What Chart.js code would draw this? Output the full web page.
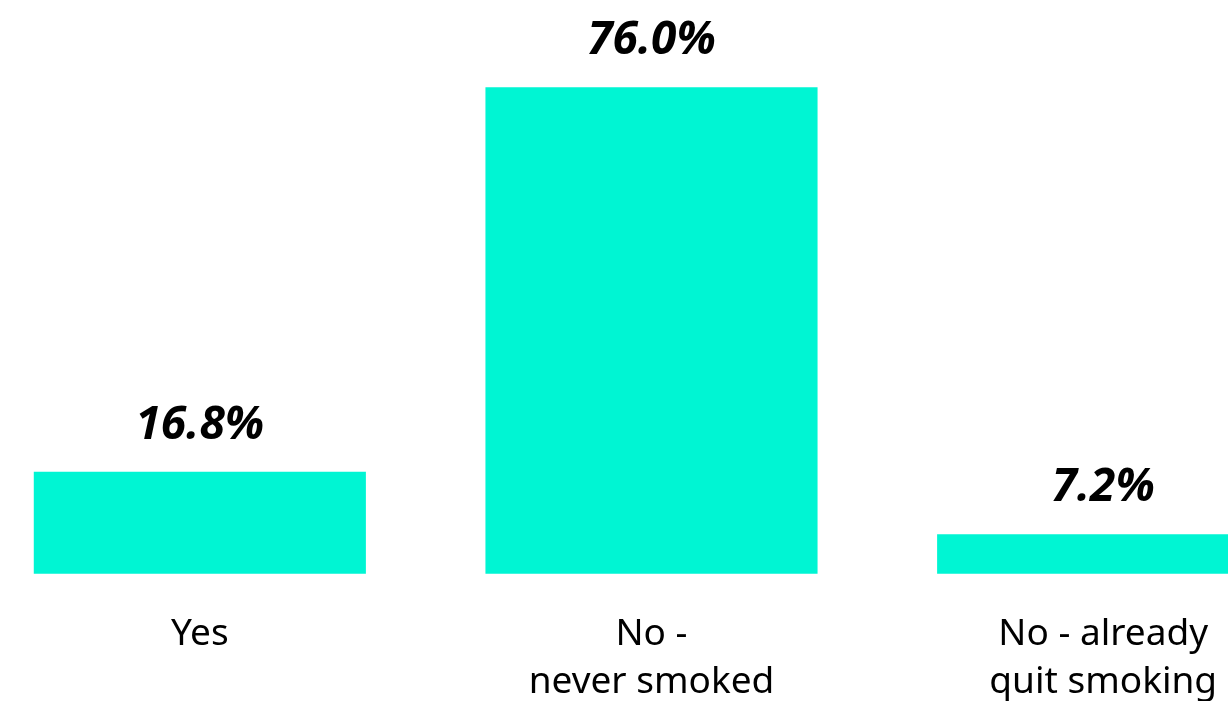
<!DOCTYPE html>
<html>
<head>
<meta charset="utf-8">
<script src="https://cdn.jsdelivr.net/npm/chart.js@4"></script>
<style>
  html, body { margin: 0; padding: 0; background: #fff; overflow: hidden; }
  #wrap { position: absolute; left: -26px; top: 0; width: 1355px; height: 744px; }
</style>
</head>
<body>
<div id="wrap"><canvas id="chart"></canvas></div>
<script>
// Smoking status (%)
const categories = [['Yes'], ['No -', 'never smoked'], ['No - already', 'quit smoking']];
const shares = [16.8, 76.0, 7.2];
const valueLabels = ['16.8%', '76.0%', '7.2%'];

const BAR_COLOR = '#00F5D3';

// draws the bold italic value above each bar
const valueLabelPlugin = {
  id: 'valueLabels',
  afterDatasetsDraw(chart) {
    const ctx = chart.ctx;
    const meta = chart.getDatasetMeta(0);
    ctx.save();
    ctx.font = 'italic bold 46px "Noto Sans", sans-serif';
    ctx.fillStyle = '#000';
    ctx.textAlign = 'center';
    ctx.textBaseline = 'alphabetic';
    meta.data.forEach((bar, i) => {
      ctx.fillText(valueLabels[i], bar.x, bar.y - 33);
    });
    ctx.restore();
  }
};

new Chart(document.getElementById('chart'), {
  type: 'bar',
  data: {
    labels: categories,
    datasets: [{
      data: shares,
      backgroundColor: BAR_COLOR,
      barPercentage: 0.7353,
      categoryPercentage: 1.0
    }]
  },
  options: {
    responsive: true,
    maintainAspectRatio: false,
    animation: false,
    layout: { padding: { top: 62, bottom: 0, left: 0, right: 0 } },
    plugins: {
      legend: { display: false },
      tooltip: { enabled: false }
    },
    scales: {
      x: {
        grid: { display: false, drawTicks: false },
        border: { display: false },
        ticks: {
          color: '#000',
          padding: 37,
          maxRotation: 0,
          autoSkip: false,
          font: { family: '"Noto Sans", sans-serif', size: 37, lineHeight: 1.3 }
        }
      },
      y: {
        display: false,
        min: 1.1,
        max: 79.9
      }
    }
  },
  plugins: [valueLabelPlugin]
});
</script>
</body>
</html>
